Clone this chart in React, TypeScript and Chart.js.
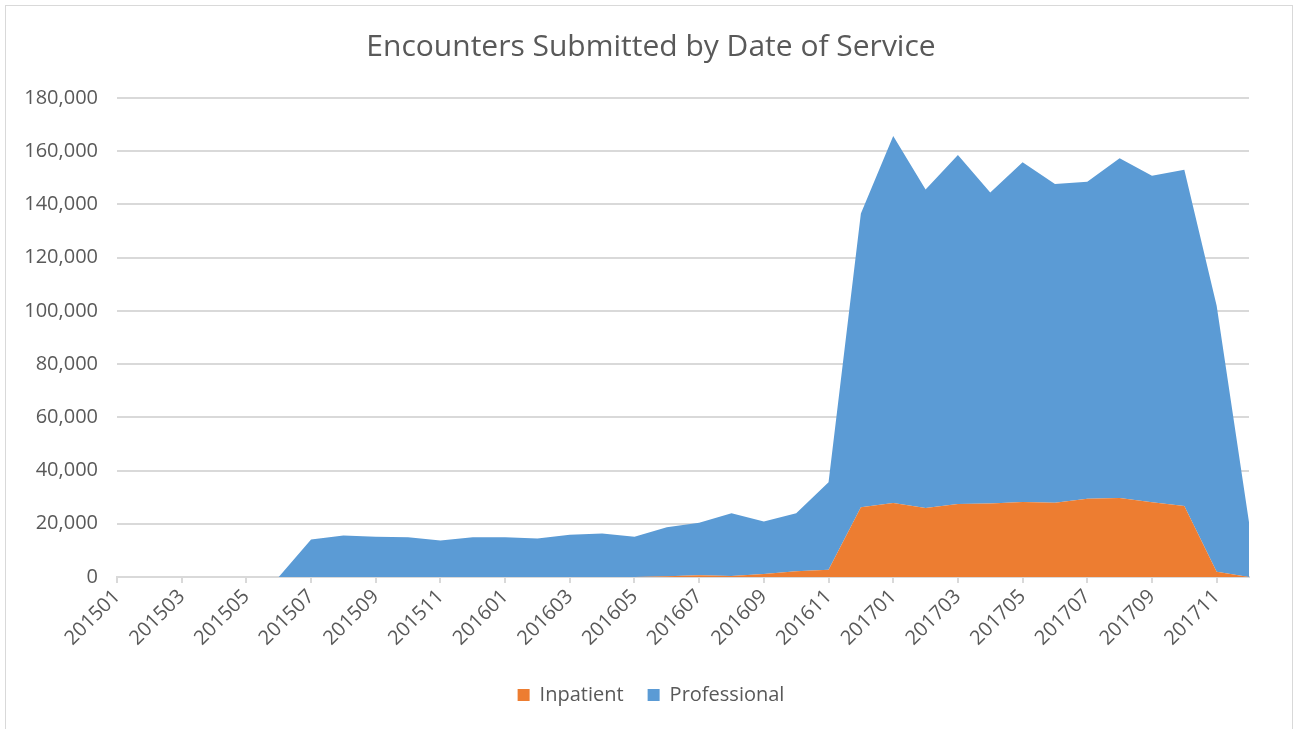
import React, { useEffect, useRef } from "react";
import { Chart, registerables } from "chart.js";

Chart.register(...registerables);

const months: string[] = [
  "201501", "201502", "201503", "201504", "201505", "201506",
  "201507", "201508", "201509", "201510", "201511", "201512",
  "201601", "201602", "201603", "201604", "201605", "201606",
  "201607", "201608", "201609", "201610", "201611", "201612",
  "201701", "201702", "201703", "201704", "201705", "201706",
  "201707", "201708", "201709", "201710", "201711", "201712",
];

const inpatient: number[] = [
  0, 0, 0, 0, 0, 0,
  0, 0, 0, 0, 0, 0,
  0, 0, 0, 0, 0, 300,
  700, 400, 1100, 2200, 2700, 26200,
  27800, 25900, 27400, 27600, 28200, 27900,
  29400, 29700, 28100, 26700, 2000, 0,
];

const professional: number[] = [
  0, 0, 0, 0, 0, 0,
  14100, 15600, 15100, 14900, 13700, 14900,
  14900, 14500, 15900, 16300, 15100, 18400,
  19700, 23600, 19800, 21800, 32900, 110400,
  137900, 119700, 131200, 116900, 127700, 119800,
  119100, 127700, 122700, 126300, 99900, 20600,
];

const yTicksMax = 180000;
const yTicksStep = 20000;

const TEXT = "#595959";
const GRID = "#d9d9d9";
const FONT = "'Open Sans', 'Noto Sans', sans-serif";

export default function App() {
  const canvasRef = useRef<HTMLCanvasElement | null>(null);

  useEffect(() => {
    const canvas = canvasRef.current;
    if (!canvas) return;
    const chart = new Chart(canvas, {
      type: "line",
      data: {
        labels: months,
        datasets: [
          {
            label: "Inpatient",
            data: inpatient,
            backgroundColor: "#ED7D31",
            borderColor: "#ED7D31",
            borderWidth: 0,
            pointRadius: 0,
            fill: "origin",
            tension: 0,
          },
          {
            label: "Professional",
            data: professional,
            backgroundColor: "#5B9BD5",
            borderColor: "#5B9BD5",
            borderWidth: 0,
            pointRadius: 0,
            fill: "-1",
            tension: 0,
          },
        ],
      },
      options: {
        responsive: false,
        animation: false,
        layout: { padding: { left: 6, right: 0, top: 0, bottom: 14 } },
        plugins: {
          title: {
            display: true,
            text: "Encounters Submitted by Date of Service",
            color: TEXT,
            font: { family: FONT, size: 30, weight: "normal", lineHeight: 1.2 },
            padding: { top: 29, bottom: 33 },
          },
          legend: {
            display: true,
            position: "bottom",
            labels: {
              color: TEXT,
              font: { family: FONT, size: 20 },
              boxWidth: 12,
              boxHeight: 12,
              padding: 24,
            },
          },
          tooltip: { enabled: false },
        },
        scales: {
          x: {
            type: "category",
            offset: false,
            grid: {
              display: true,
              drawOnChartArea: false,
              drawTicks: true,
              tickLength: 6,
              color: GRID,
              lineWidth: 2,
            },
            border: { display: true, color: GRID, width: 2 },
            ticks: {
              autoSkip: false,
              minRotation: 45,
              maxRotation: 45,
              padding: 2,
              color: TEXT,
              font: { family: FONT, size: 20 },
              callback: (_v: any, i: number) => (i % 2 === 0 ? months[i] : null),
            },
            afterFit: (scale: any) => {
              scale.height = 84;
            },
          },
          y: {
            stacked: true,
            min: 0,
            max: yTicksMax,
            grid: {
              color: GRID,
              lineWidth: 2,
              drawTicks: false,
            },
            border: { display: false },
            ticks: {
              stepSize: yTicksStep,
              padding: 19,
              color: TEXT,
              font: { family: FONT, size: 20 },
              callback: (v: any) => Number(v).toLocaleString("en-US"),
            },
            afterFit: (scale: any) => {
              scale.width = 111;
            },
          },
          yRight: {
            type: "linear",
            position: "right",
            display: true,
            grid: { display: false, drawTicks: false },
            border: { display: false },
            ticks: { display: false },
            afterFit: (scale: any) => {
              scale.width = 47;
            },
          },
        },
      },
    });
    return () => chart.destroy();
  }, []);

  return (
    <div
      style={{
        position: "fixed",
        left: 0,
        top: 0,
        width: 1296,
        height: 729,
        overflow: "hidden",
        background: "#ffffff",
      }}
    >
      <div
        style={{
          position: "absolute",
          left: 5,
          top: 5,
          width: 1288,
          height: 730,
          border: "1px solid #d9d9d9",
          boxSizing: "border-box",
        }}
      />
      <canvas
        ref={canvasRef}
        width={1296}
        height={729}
        style={{ position: "absolute", left: 0, top: 0, width: 1296, height: 729 }}
      />
    </div>
  );
}
